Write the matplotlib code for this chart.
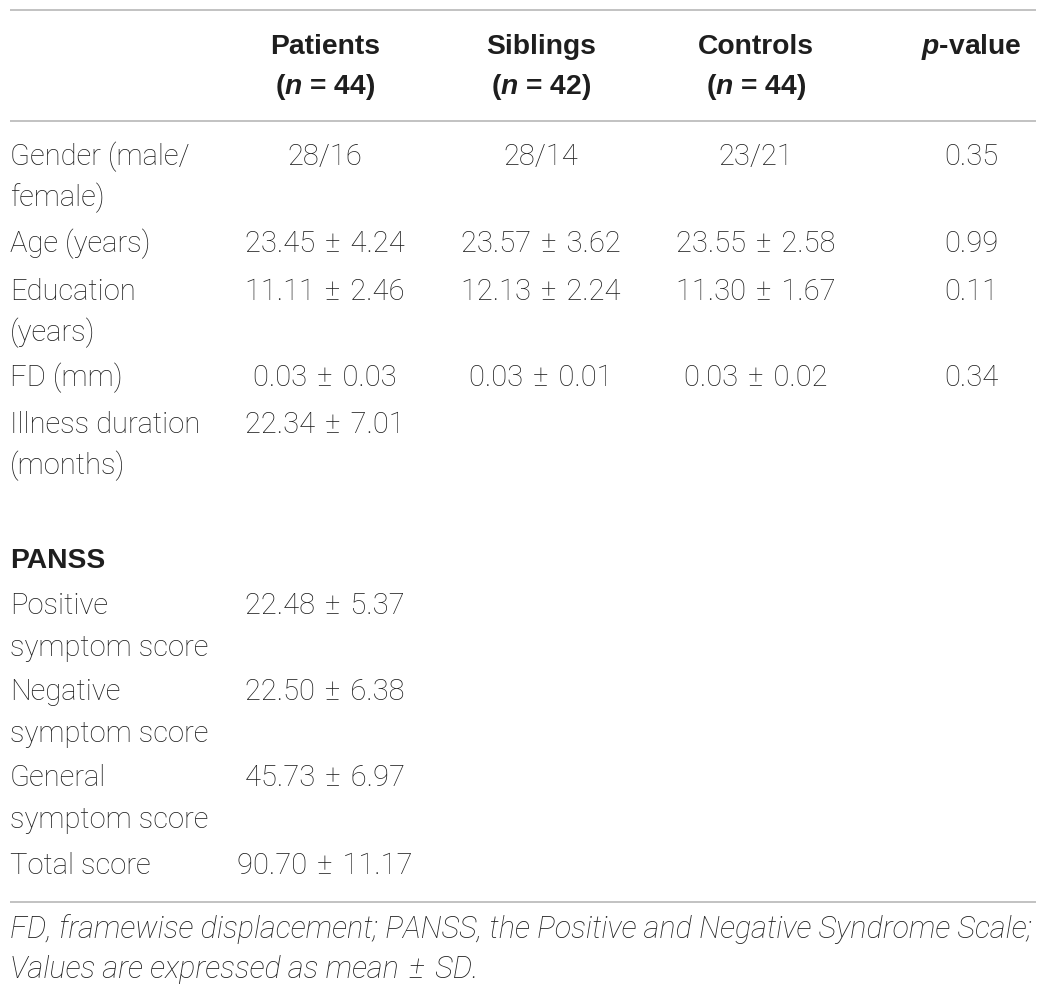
import matplotlib
matplotlib.use("Agg")
import matplotlib.pyplot as plt

col_headers = ["Patients", "Siblings", "Controls"]
col_n = [44, 42, 44]
row_labels = [
    ["Gender (male/", "female)"],
    ["Age (years)"],
    ["Education", "(years)"],
    ["FD (mm)"],
    ["Illness duration", "(months)"],
]
patients = ["28/16", "23.45 ± 4.24", "11.11 ± 2.46", "0.03 ± 0.03", "22.34 ± 7.01"]
siblings = ["28/14", "23.57 ± 3.62", "12.13 ± 2.24", "0.03 ± 0.01", ""]
controls = ["23/21", "23.55 ± 2.58", "11.30 ± 1.67", "0.03 ± 0.02", ""]
p_values = ["0.35", "0.99", "0.11", "0.34", ""]

panss_title = "PANSS"
panss_labels = [
    ["Positive", "symptom score"],
    ["Negative", "symptom score"],
    ["General", "symptom score"],
    ["Total score"],
]
panss_patients = ["22.48 ± 5.37", "22.50 ± 6.38", "45.73 ± 6.97", "90.70 ± 11.17"]

footnote = ["FD, framewise displacement; PANSS, the Positive and Negative Syndrome Scale;",
            "Values are expressed as mean ± SD."]

plt.rcParams["mathtext.fontset"] = "custom"
plt.rcParams["mathtext.rm"] = "Liberation Sans:bold"
plt.rcParams["mathtext.bf"] = "Liberation Sans:bold"
plt.rcParams["mathtext.it"] = "Liberation Sans:italic:bold"
plt.rcParams["mathtext.bfit"] = "Liberation Sans:italic:bold"

W, H = 1050, 994
fig = plt.figure(figsize=(W / 100, H / 100), dpi=100)
ax = fig.add_axes([0, 0, 1, 1])
ax.set_xlim(0, W)
ax.set_ylim(H, 0)
ax.axis("off")

FAM = ["Roboto", "DejaVu Sans"]
BFAM = ["Liberation Sans", "DejaVu Sans"]
FS = 21
BFS = 20.3
TC = "#1e1e1e"
LC = "#b8b8b8"
body = dict(fontsize=FS, color=TC, family=FAM, fontweight="light", va="baseline")
bold = dict(fontsize=BFS, color=TC, family=BFAM, fontweight="bold", va="baseline")
DY = 8  # baseline offset from visual row centre


def fmt(s):
    return s.replace(" ± ", " \u200a±\u200a ")


# lines
for y in (10, 121, 902):
    ax.plot([10, 1036], [y, y], color=LC, lw=1.2, solid_capstyle="butt")

col_x = [325, 541, 756]
px = 971
for x, h, n in zip(col_x, col_headers, col_n):
    ax.text(x, 46 + DY, h, ha="center", **bold)
    ax.text(x, 86 + DY, r"($\mathbfit{n}$ = %d)" % n, ha="center", **bold)
ax.text(px, 46 + DY, r"$\mathbfit{p}$-value", ha="center", **bold)

row_y = [157, 244, 292, 378, 425]
lh = 41.5
for y, labs, a, b, c, p in zip(row_y, row_labels, patients, siblings, controls, p_values):
    for i, l in enumerate(labs):
        ax.text(10, y + i * lh + DY, l, ha="left", **body)
    for x, v in zip(col_x + [px], [a, b, c, p]):
        if v:
            ax.text(x, y + DY, fmt(v), ha="center", **body)

ax.text(10, 560 + DY, panss_title, ha="left", **bold)
panss_y = [606, 692, 778, 866]
for y, labs, v in zip(panss_y, panss_labels, panss_patients):
    for i, l in enumerate(labs):
        ax.text(10, y + i * lh + DY, l, ha="left", **body)
    ax.text(col_x[0], y + DY, fmt(v), ha="center", **body)

for i, t in enumerate(footnote):
    ax.text(10, 930 + i * 40 + DY, fmt(t), ha="left", va="baseline", fontsize=22, color=TC,
            family=FAM, fontweight="light", style="italic")

fig.savefig("out.png", dpi=100)
